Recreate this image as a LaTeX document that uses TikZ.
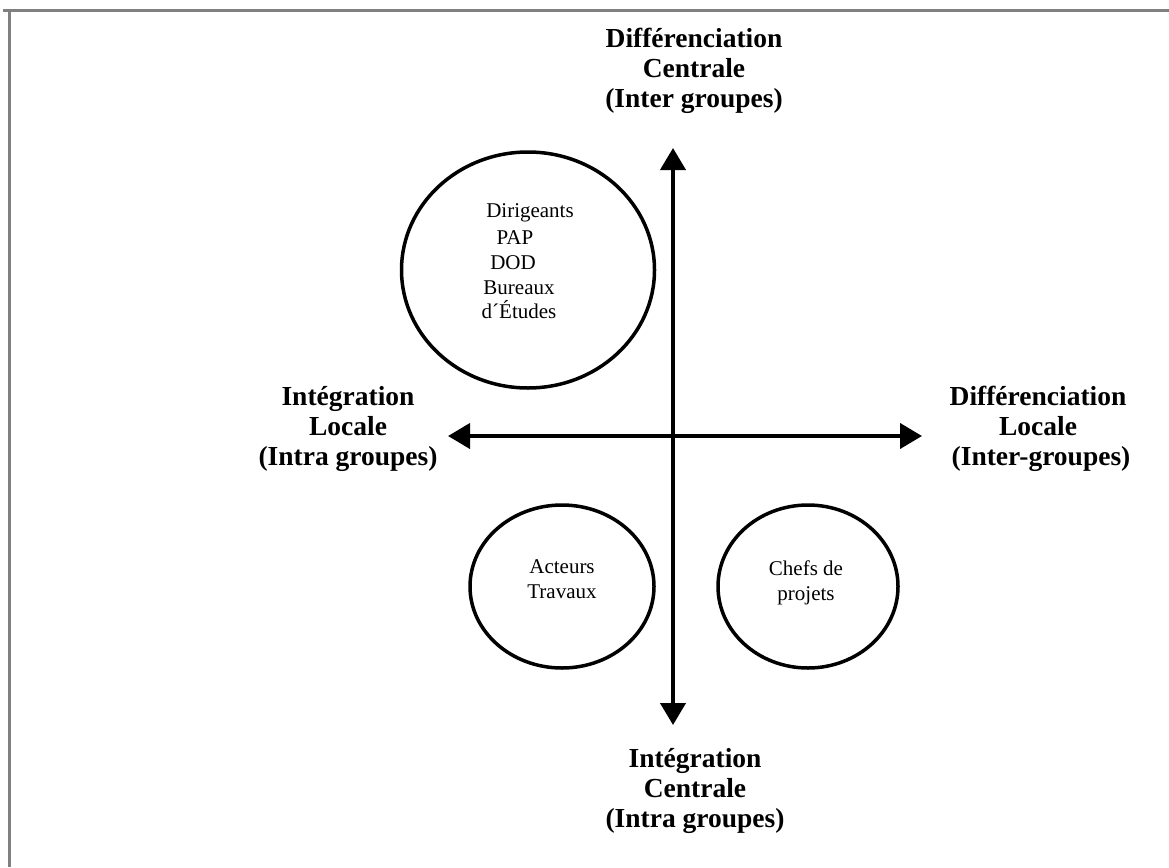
\documentclass[tikz,border=0pt]{standalone}
\usepackage{fontspec}
\setmainfont{Liberation Serif}
\usetikzlibrary{arrows.meta}
\begin{document}
\begin{tikzpicture}[x=1pt,y=-1pt,
  axis/.style={line width=4pt,{Triangle[length=22pt,width=25pt]}-{Triangle[length=22pt,width=25pt]}},
  groupring/.style={line width=3.5pt},
  polelabel/.style={font=\fontsize{27.5}{30}\selectfont\bfseries,align=center,inner sep=0pt},
  grouptext/.style={font=\fontsize{21}{25}\selectfont,inner sep=0pt},
  frameline/.style={draw=black!50,line width=3pt}]
\useasboundingbox (0,0) rectangle (1169,867);
% frame
\coordinate (ftl) at (9,11);
\coordinate (ftr) at (1169,11);
\coordinate (fbl) at (9,867);
\coordinate (ftl0) at (3,11);
\draw[frameline] (ftl0) -- (ftr);
\draw[frameline] (ftl) -- (fbl);
% axes
\coordinate (top) at (673,148);
\coordinate (bottom) at (673,725);
\coordinate (left) at (448,436);
\coordinate (right) at (922,436);
\draw[axis] (bottom) -- (top);
\draw[axis] (left) -- (right);
% groups
\draw[groupring] (528,270) ellipse [x radius=126.5, y radius=118];
\draw[groupring] (562,586.5) ellipse [x radius=92, y radius=81.5];
\draw[groupring] (808,586.5) ellipse [x radius=90, y radius=81.5];
\node[grouptext,anchor=base] (dir1) at (530,217) {Dirigeants};
\node[grouptext,anchor=base] (dir2) at (515,244) {PAP};
\node[grouptext,anchor=base] (dir3) at (513,269) {DOD};
\node[grouptext,anchor=base] (dir4) at (519,294) {Bureaux};
\node[grouptext,anchor=base] (dir5) at (519,318) {d´Études};
\node[grouptext,align=center] (act) at (562,579) {Acteurs\\Travaux};
\node[grouptext,align=center] (chef) at (806,583) {Chefs de\\projets};
% pole labels
\node[polelabel] (dc) at (694,71) {Différenciation\\Centrale\\(Inter groupes)};
\node[polelabel] (ic) at (695,791) {Intégration\\Centrale\\(Intra groupes)};
\node[polelabel] (il) at (348,429) {Intégration\\Locale\\(Intra groupes)};
\node[polelabel] (dl) at (1038,429) {Différenciation\\Locale\\\hspace*{6pt}(Inter-groupes)};
\end{tikzpicture}
\end{document}
